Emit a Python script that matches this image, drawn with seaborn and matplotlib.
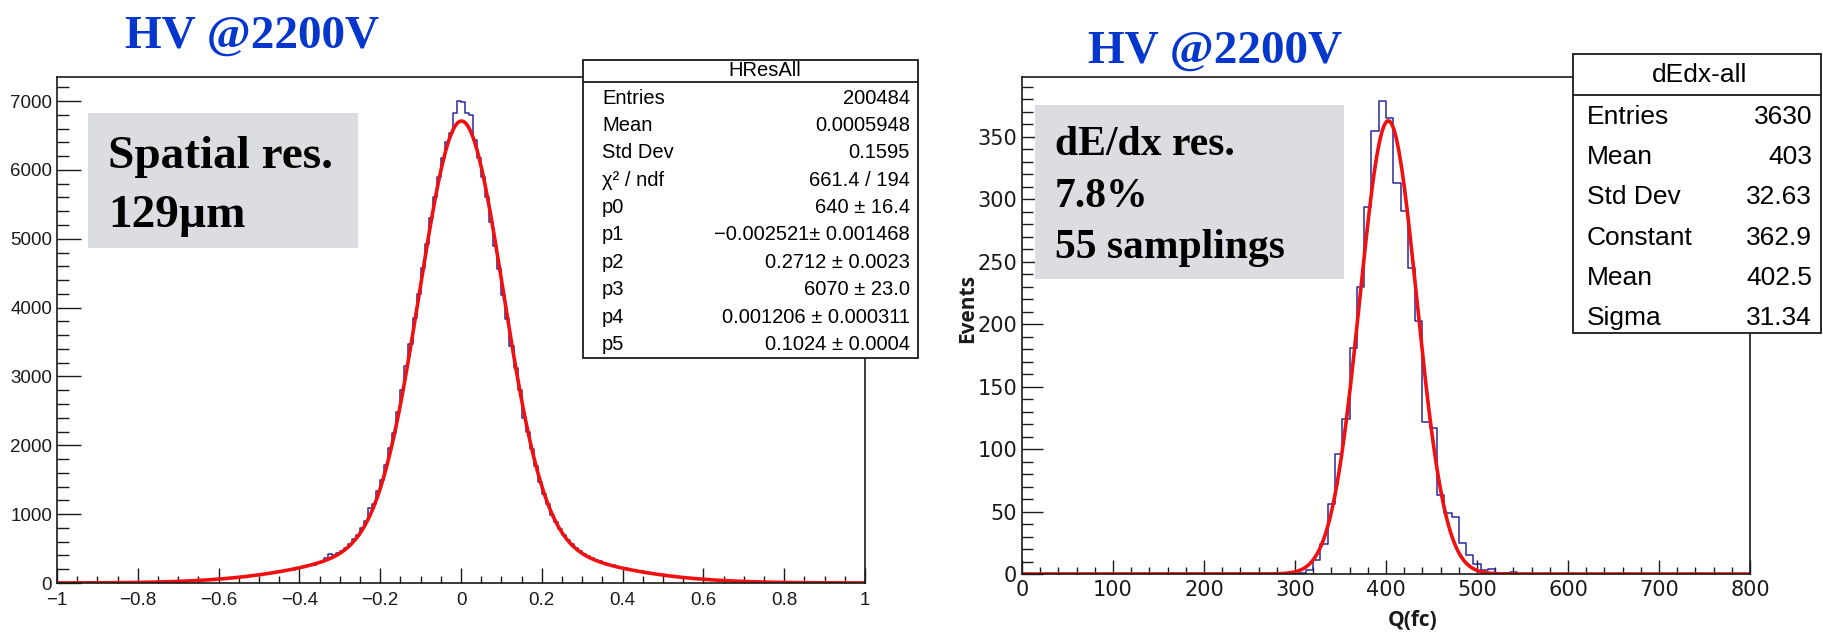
import numpy as np
import pandas as pd
import matplotlib
matplotlib.use("Agg")
import matplotlib.pyplot as plt
import seaborn as sns
from matplotlib.patches import Rectangle
from matplotlib.lines import Line2D
from matplotlib.ticker import MultipleLocator, FuncFormatter

# ---------------- data ----------------
# Spatial residuals: 200 bins of width 0.01 on [-1, 1]
res_counts_neg = [
    1, 1, 0, 2, 1, 1, 2, 2, 3, 2,
    3, 2, 4, 4, 5, 4, 6, 7, 6, 8,
    9, 11, 10, 13, 12, 16, 15, 19, 21, 20,
    25, 27, 28, 33, 34, 40, 39, 47, 48, 55,
    58, 64, 66, 75, 77, 88, 90, 101, 104, 116,
    124, 127, 141, 150, 154, 170, 175, 191, 196, 214,
    228, 241, 255, 268, 295, 310, 360, 420, 400, 430,
    462, 510, 565, 640, 700, 800, 900, 1090, 1150, 1330,
    1500, 1720, 1955, 2180, 2490, 2800, 3150, 3470, 3850, 4200,
    4580, 4930, 5300, 5610, 5900, 6170, 6400, 6540, 6830, 7000,
]
res_counts_pos = [
    6990, 6830, 6800, 6430, 6180, 5900, 5600, 5250, 4890, 4560,
    4190, 3830, 3440, 3120, 2810, 2400, 2200, 1945, 1700, 1470,
    1290, 1150, 985, 890, 790, 690, 625, 560, 510, 462,
    425, 395, 360, 335, 315, 290, 268, 258, 236, 222,
    212, 196, 190, 174, 168, 154, 150, 136, 131, 118,
    115, 104, 100, 90, 87, 77, 75, 66, 64, 56,
    54, 47, 46, 40, 39, 34, 33, 28, 27, 23,
    22, 19, 18, 17, 14, 14, 11, 11, 9, 9,
    8, 7, 6, 5, 5, 4, 4, 3, 3, 3,
    2, 2, 2, 2, 1, 1, 1, 1, 1, 1,
]
res_range = (-1.0, 1.0)
res_nbins = 200
# double-Gaussian fit: p0..p5
res_fit = [640, -0.002521, 0.2712, 6070, 0.001206, 0.1024]
res_stat_names = ["Entries", "Mean", "Std Dev", "\u03c7\u00b2 / ndf",
                  "p0", "p1", "p2", "p3", "p4", "p5"]
res_stat_values = ["200484", "0.0005948", "0.1595", "661.4 / 194",
                   "640 \u00b1 16.4", "\u22120.002521\u00b1 0.001468",
                   "0.2712 \u00b1 0.0023", "6070 \u00b1 23.0",
                   "0.001206 \u00b1 0.000311", "0.1024 \u00b1 0.0004"]

# dE/dx: 100 bins of width 8 on [0, 800]; bins before index 38 are empty
dedx_first_bin = 38
dedx_counts_nonzero = [1, 3, 11, 24, 56, 96, 124, 181, 230, 294, 355, 379,
                       365, 313, 291, 245, 203, 122, 117, 63, 49, 46, 25, 15,
                       8, 3, 4, 0, 1, 2]
dedx_range = (0.0, 800.0)
dedx_nbins = 100
# Gaussian fit: constant, mean, sigma
dedx_fit = [362.9, 402.5, 31.34]
dedx_stat_names = ["Entries", "Mean", "Std Dev", "Constant", "Mean", "Sigma"]
dedx_stat_values = ["3630", "403", "32.63", "362.9", "402.5", "31.34"]

title_text = "HV @2200V"
left_note = ["Spatial res.", "129\u00b5m"]
right_note = ["dE/dx res.", "7.8%", "55 samplings"]

# ---------------- figure ----------------
W, H, DPI = 1823, 632, 100
sns.set_theme(style="white")
plt.rcParams["font.family"] = ["Liberation Sans", "DejaVu Sans"]
plt.rcParams["axes.unicode_minus"] = True

fig = plt.figure(figsize=(W / DPI, H / DPI), dpi=DPI)
fig.patch.set_facecolor("white")


def fx(px):
    return px / W


def fy(py):
    return 1 - py / H


def ax_rect(x0, y0, x1, y1):
    return [fx(x0), fy(y1), (x1 - x0) / W, (y1 - y0) / H]


HIST_COLOR = "#2a2a9c"
FIT_COLOR = "#f01010"
FRAME = "#1a1a1a"


def root_fmt(v, _):
    v = round(v, 9)
    if abs(v) < 1e-9:
        v = 0.0
    return ("%g" % v).replace("-", "\u2212")


def style_axes(ax, label_family, label_size, ylen, xlen, ypad, xpad):
    for s in ax.spines.values():
        s.set_visible(True)
        s.set_color(FRAME)
        s.set_linewidth(1.2)
    ax.tick_params(axis="both", which="both", direction="in", colors=FRAME,
                   width=1.0, labelsize=label_size, top=False, right=False,
                   bottom=True, left=True, labelfontfamily=label_family)
    ax.tick_params(axis="y", which="major", length=ylen[0], pad=ypad)
    ax.tick_params(axis="y", which="minor", length=ylen[1])
    ax.tick_params(axis="x", which="major", length=xlen[0], pad=xpad)
    ax.tick_params(axis="x", which="minor", length=xlen[1])
    ax.xaxis.set_major_formatter(FuncFormatter(root_fmt))
    ax.yaxis.set_major_formatter(FuncFormatter(root_fmt))
    ax.grid(False)
    ax.set_facecolor("white")


def binned_frame(lo, hi, nbins, counts):
    edges = np.linspace(lo, hi, nbins + 1)
    centers = 0.5 * (edges[:-1] + edges[1:])
    return pd.DataFrame({"x": centers, "n": np.asarray(counts, dtype=float)})


# ---- left panel: spatial resolution ----
ax1 = fig.add_axes(ax_rect(57, 77, 865, 583))
res_df = binned_frame(res_range[0], res_range[1], res_nbins,
                      res_counts_neg + res_counts_pos)
sns.histplot(data=res_df, x="x", weights="n", bins=res_nbins,
             binrange=res_range, element="step", fill=False,
             color=HIST_COLOR, linewidth=1.1, ax=ax1)
xs1 = np.linspace(res_range[0], res_range[1], 1001)
p0, p1, p2, p3, p4, p5 = res_fit
ys1 = p0 * np.exp(-0.5 * ((xs1 - p1) / p2) ** 2) + \
    p3 * np.exp(-0.5 * ((xs1 - p4) / p5) ** 2)
sns.lineplot(x=xs1, y=ys1, color=FIT_COLOR, linewidth=2.6, estimator=None,
             ax=ax1)
ax1.set_xlim(*res_range)
ax1.set_ylim(0, 7350)
ax1.xaxis.set_major_locator(MultipleLocator(0.2))
ax1.xaxis.set_minor_locator(MultipleLocator(0.05))
ax1.yaxis.set_major_locator(MultipleLocator(1000))
ax1.yaxis.set_minor_locator(MultipleLocator(200))
ax1.set_xlabel("")
ax1.set_ylabel("")
style_axes(ax1, "Liberation Sans", 13.5, (17, 8.6), (11, 5), 3.5, 6.5)

# ---- right panel: dE/dx ----
ax2 = fig.add_axes(ax_rect(1022, 77, 1750, 574))
dedx_counts = [0] * dedx_first_bin + dedx_counts_nonzero
dedx_counts += [0] * (dedx_nbins - len(dedx_counts))
dedx_df = binned_frame(dedx_range[0], dedx_range[1], dedx_nbins, dedx_counts)
sns.histplot(data=dedx_df, x="x", weights="n", bins=dedx_nbins,
             binrange=dedx_range, element="step", fill=False,
             color=HIST_COLOR, linewidth=1.1, ax=ax2)
xs2 = np.linspace(dedx_range[0], dedx_range[1], 1601)
c, mu, sig = dedx_fit
ys2 = c * np.exp(-0.5 * ((xs2 - mu) / sig) ** 2)
sns.lineplot(x=xs2, y=ys2, color=FIT_COLOR, linewidth=2.6, estimator=None,
             ax=ax2)
ax2.set_xlim(*dedx_range)
ax2.set_ylim(0, 398)
ax2.xaxis.set_major_locator(MultipleLocator(100))
ax2.xaxis.set_minor_locator(MultipleLocator(20))
ax2.yaxis.set_major_locator(MultipleLocator(50))
ax2.yaxis.set_minor_locator(MultipleLocator(10))
ax2.set_xlabel("")
ax2.set_ylabel("")
style_axes(ax2, "Liberation Sans Narrow", 15, (15, 8), (10, 5), 3.6, 4.3)

fig.text(fx(1413), fy(620), "Q(fc)", family=["Open Sans", "DejaVu Sans"],
         fontweight="bold", fontsize=15, ha="center", va="center",
         color=FRAME)
fig.text(fx(968), fy(309), "Events", family=["Open Sans", "DejaVu Sans"],
         fontweight="bold", fontsize=15, ha="center", va="center",
         rotation=90, color=FRAME)


# ---- stats boxes ----
def stats_box(x0, y0, x1, y1, sep_y, title, title_x, title_y, names, values,
              row0, dy, lab_x, val_x, size):
    fig.add_artist(Rectangle((fx(x0), fy(y1)), (x1 - x0) / W, (y1 - y0) / H,
                             transform=fig.transFigure, facecolor="white",
                             edgecolor=FRAME, linewidth=1.3, zorder=10))
    fig.add_artist(Line2D([fx(x0), fx(x1)], [fy(sep_y), fy(sep_y)],
                          transform=fig.transFigure, color=FRAME,
                          linewidth=1.3, zorder=11))
    fig.text(fx(title_x), fy(title_y), title, fontsize=size, ha="center",
             va="center", color="black", zorder=12)
    for i, (n, v) in enumerate(zip(names, values)):
        yy = fy(row0 + i * dy)
        fig.text(fx(lab_x), yy, n, fontsize=size, ha="left", va="center",
                 color="black", zorder=12)
        fig.text(fx(val_x), yy, v, fontsize=size, ha="right", va="center",
                 color="black", zorder=12)


stats_box(583, 60, 918, 358, 82, "HResAll", 765, 71,
          res_stat_names, res_stat_values, 98, 27.4, 602, 910, 14.5)
stats_box(1573, 54, 1821, 333, 95, "dEdx-all", 1700, 75,
          dedx_stat_names, dedx_stat_values, 117, 40.2, 1587, 1812, 19)

# ---- titles ----
TITLE_BLUE = "#0637cc"
serif = ["Liberation Serif", "DejaVu Serif"]
fig.text(fx(252), fy(48), title_text, family=serif, fontweight="bold",
         fontsize=34, color=TITLE_BLUE, ha="center", va="baseline")
fig.text(fx(1215), fy(63), title_text, family=serif, fontweight="bold",
         fontsize=34, color=TITLE_BLUE, ha="center", va="baseline")

# ---- annotation boxes ----
GREY = "#dcdde0"
fig.add_artist(Rectangle((fx(88), fy(248)), (358 - 88) / W, (248 - 113) / H,
                         transform=fig.transFigure, facecolor=GREY,
                         edgecolor="none", zorder=13))
for line, base in zip(left_note, [168, 227]):
    fig.text(fx(108), fy(base), line, family=serif, fontweight="bold",
             fontsize=34, color="black", ha="left", va="baseline", zorder=14)

fig.add_artist(Rectangle((fx(1035), fy(279)), (1344 - 1035) / W,
                         (279 - 105) / H, transform=fig.transFigure,
                         facecolor=GREY, edgecolor="none", zorder=13))
for line, base in zip(right_note, [155, 207, 258]):
    fig.text(fx(1055), fy(base), line, family=serif, fontweight="bold",
             fontsize=30, color="black", ha="left", va="baseline", zorder=14)

fig.savefig("out.png", dpi=DPI, facecolor="white")
